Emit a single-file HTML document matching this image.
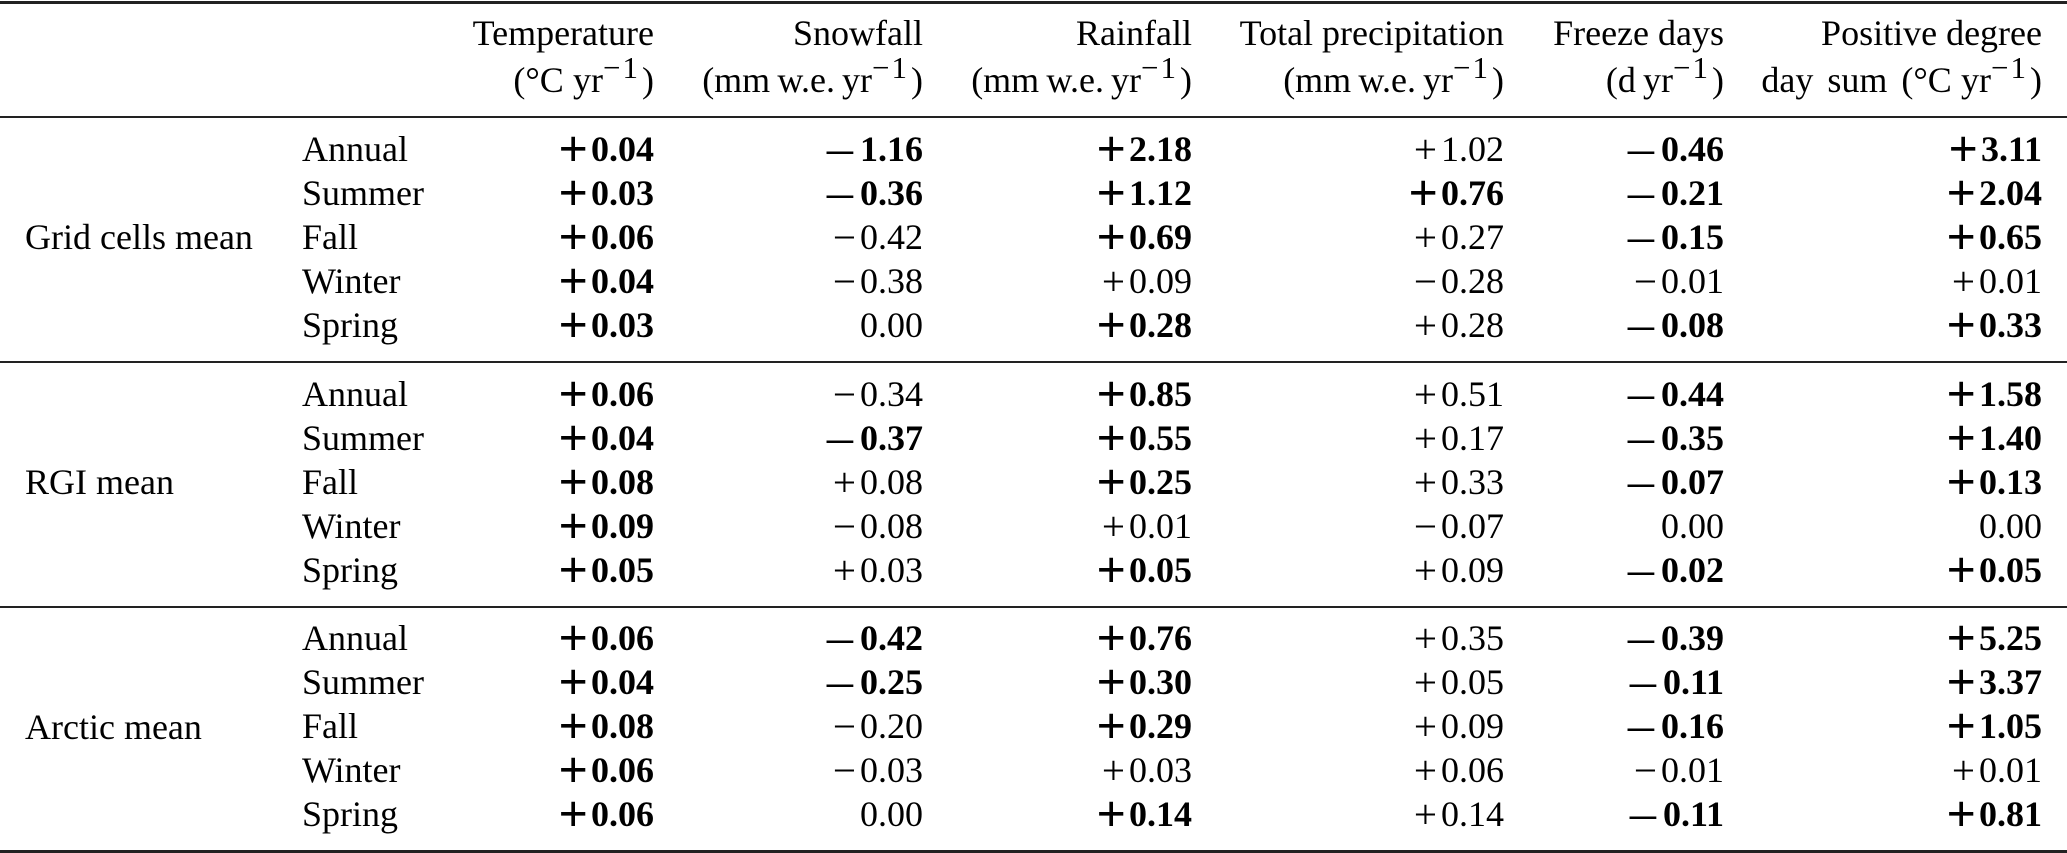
<!DOCTYPE html>
<html lang="en">
<head>
<meta charset="utf-8">
<title>Climate trends table</title>
<style>
html,body{margin:0;padding:0;background:#fff}
#t{position:relative;width:2067px;height:853px;overflow:hidden;background:#fff;color:#000;font-family:"Liberation Serif","Times New Roman",serif;font-size:36px;line-height:44px}
.rule{position:absolute;left:0;width:2067px;background:#222}
.r{position:absolute;left:0;width:2067px;height:44px;white-space:nowrap}
.g,.n,.c{position:absolute;top:0;white-space:nowrap}
.g{left:25px}
.n{left:302px}
.c{text-align:right}
.c1{right:1413px}.c2{right:1144px}.c3{right:875px}.c4{right:563px}.c5{right:343px}.c6{right:25px}
b{font-weight:700}
.p{font-weight:700;font-size:52px;line-height:0;vertical-align:-5px;margin-right:3px}
.m{font-weight:700;font-size:36px;margin-right:7px;display:inline-block;transform:scaleX(1.45);transform-origin:right center;line-height:0}
.q{font-size:41px;line-height:0;vertical-align:-2px;margin-right:4px}
.h{position:absolute;text-align:right;white-space:nowrap;height:44px}
sup{font-size:31px;line-height:0;vertical-align:14px;letter-spacing:2px;margin-right:2px}
.th{word-spacing:-2px}
.ts{margin-left:2px}
</style>
</head>
<body>
<div id="t">
<div class="rule" style="top:1px;height:3px"></div>
<div class="rule" style="top:116px;height:2px"></div>
<div class="rule" style="top:361px;height:2px"></div>
<div class="rule" style="top:606px;height:2px"></div>
<div class="rule" style="top:850px;height:3px"></div>

<div class="h c1" style="top:11px">Temperature</div>
<div class="h c1" style="top:58px"><span class="th">(°C&#8201;<span class="ts">yr</span><sup>−1</sup>)</span></div>
<div class="h c2" style="top:11px">Snowfall</div>
<div class="h c2" style="top:58px"><span class="th">(mm&#8201;w.e. yr<sup>−1</sup>)</span></div>
<div class="h c3" style="top:11px">Rainfall</div>
<div class="h c3" style="top:58px"><span class="th">(mm&#8201;w.e. yr<sup>−1</sup>)</span></div>
<div class="h c4" style="top:11px">Total precipitation</div>
<div class="h c4" style="top:58px"><span class="th">(mm&#8201;w.e. yr<sup>−1</sup>)</span></div>
<div class="h c5" style="top:11px">Freeze days</div>
<div class="h c5" style="top:58px"><span class="th">(d&#8201;yr<sup>−1</sup>)</span></div>
<div class="h c6" style="top:11px">Positive degree</div>
<div class="h c6" style="top:58px"><span class="th" style="word-spacing:5px">day sum (°C&#8201;<span class="ts">yr</span><sup>−1</sup>)</span></div>

<div class="g" style="top:215px">Grid cells mean</div>
<div class="g" style="top:460px">RGI mean</div>
<div class="g" style="top:705px">Arctic mean</div>

<div class="r" style="top:127px"><span class="n">Annual</span><span class="c c1"><b><span class="p">+</span>0.04</b></span><span class="c c2"><b><span class="m">–</span>1.16</b></span><span class="c c3"><b><span class="p">+</span>2.18</b></span><span class="c c4"><span class="q">+</span>1.02</span><span class="c c5"><b><span class="m">–</span>0.46</b></span><span class="c c6"><b><span class="p">+</span>3.11</b></span></div>
<div class="r" style="top:171px"><span class="n">Summer</span><span class="c c1"><b><span class="p">+</span>0.03</b></span><span class="c c2"><b><span class="m">–</span>0.36</b></span><span class="c c3"><b><span class="p">+</span>1.12</b></span><span class="c c4"><b><span class="p">+</span>0.76</b></span><span class="c c5"><b><span class="m">–</span>0.21</b></span><span class="c c6"><b><span class="p">+</span>2.04</b></span></div>
<div class="r" style="top:215px"><span class="n">Fall</span><span class="c c1"><b><span class="p">+</span>0.06</b></span><span class="c c2"><span class="q">−</span>0.42</span><span class="c c3"><b><span class="p">+</span>0.69</b></span><span class="c c4"><span class="q">+</span>0.27</span><span class="c c5"><b><span class="m">–</span>0.15</b></span><span class="c c6"><b><span class="p">+</span>0.65</b></span></div>
<div class="r" style="top:259px"><span class="n">Winter</span><span class="c c1"><b><span class="p">+</span>0.04</b></span><span class="c c2"><span class="q">−</span>0.38</span><span class="c c3"><span class="q">+</span>0.09</span><span class="c c4"><span class="q">−</span>0.28</span><span class="c c5"><span class="q">−</span>0.01</span><span class="c c6"><span class="q">+</span>0.01</span></div>
<div class="r" style="top:303px"><span class="n">Spring</span><span class="c c1"><b><span class="p">+</span>0.03</b></span><span class="c c2">0.00</span><span class="c c3"><b><span class="p">+</span>0.28</b></span><span class="c c4"><span class="q">+</span>0.28</span><span class="c c5"><b><span class="m">–</span>0.08</b></span><span class="c c6"><b><span class="p">+</span>0.33</b></span></div>

<div class="r" style="top:372px"><span class="n">Annual</span><span class="c c1"><b><span class="p">+</span>0.06</b></span><span class="c c2"><span class="q">−</span>0.34</span><span class="c c3"><b><span class="p">+</span>0.85</b></span><span class="c c4"><span class="q">+</span>0.51</span><span class="c c5"><b><span class="m">–</span>0.44</b></span><span class="c c6"><b><span class="p">+</span>1.58</b></span></div>
<div class="r" style="top:416px"><span class="n">Summer</span><span class="c c1"><b><span class="p">+</span>0.04</b></span><span class="c c2"><b><span class="m">–</span>0.37</b></span><span class="c c3"><b><span class="p">+</span>0.55</b></span><span class="c c4"><span class="q">+</span>0.17</span><span class="c c5"><b><span class="m">–</span>0.35</b></span><span class="c c6"><b><span class="p">+</span>1.40</b></span></div>
<div class="r" style="top:460px"><span class="n">Fall</span><span class="c c1"><b><span class="p">+</span>0.08</b></span><span class="c c2"><span class="q">+</span>0.08</span><span class="c c3"><b><span class="p">+</span>0.25</b></span><span class="c c4"><span class="q">+</span>0.33</span><span class="c c5"><b><span class="m">–</span>0.07</b></span><span class="c c6"><b><span class="p">+</span>0.13</b></span></div>
<div class="r" style="top:504px"><span class="n">Winter</span><span class="c c1"><b><span class="p">+</span>0.09</b></span><span class="c c2"><span class="q">−</span>0.08</span><span class="c c3"><span class="q">+</span>0.01</span><span class="c c4"><span class="q">−</span>0.07</span><span class="c c5">0.00</span><span class="c c6">0.00</span></div>
<div class="r" style="top:548px"><span class="n">Spring</span><span class="c c1"><b><span class="p">+</span>0.05</b></span><span class="c c2"><span class="q">+</span>0.03</span><span class="c c3"><b><span class="p">+</span>0.05</b></span><span class="c c4"><span class="q">+</span>0.09</span><span class="c c5"><b><span class="m">–</span>0.02</b></span><span class="c c6"><b><span class="p">+</span>0.05</b></span></div>

<div class="r" style="top:616px"><span class="n">Annual</span><span class="c c1"><b><span class="p">+</span>0.06</b></span><span class="c c2"><b><span class="m">–</span>0.42</b></span><span class="c c3"><b><span class="p">+</span>0.76</b></span><span class="c c4"><span class="q">+</span>0.35</span><span class="c c5"><b><span class="m">–</span>0.39</b></span><span class="c c6"><b><span class="p">+</span>5.25</b></span></div>
<div class="r" style="top:660px"><span class="n">Summer</span><span class="c c1"><b><span class="p">+</span>0.04</b></span><span class="c c2"><b><span class="m">–</span>0.25</b></span><span class="c c3"><b><span class="p">+</span>0.30</b></span><span class="c c4"><span class="q">+</span>0.05</span><span class="c c5"><b><span class="m">–</span>0.11</b></span><span class="c c6"><b><span class="p">+</span>3.37</b></span></div>
<div class="r" style="top:704px"><span class="n">Fall</span><span class="c c1"><b><span class="p">+</span>0.08</b></span><span class="c c2"><span class="q">−</span>0.20</span><span class="c c3"><b><span class="p">+</span>0.29</b></span><span class="c c4"><span class="q">+</span>0.09</span><span class="c c5"><b><span class="m">–</span>0.16</b></span><span class="c c6"><b><span class="p">+</span>1.05</b></span></div>
<div class="r" style="top:748px"><span class="n">Winter</span><span class="c c1"><b><span class="p">+</span>0.06</b></span><span class="c c2"><span class="q">−</span>0.03</span><span class="c c3"><span class="q">+</span>0.03</span><span class="c c4"><span class="q">+</span>0.06</span><span class="c c5"><span class="q">−</span>0.01</span><span class="c c6"><span class="q">+</span>0.01</span></div>
<div class="r" style="top:792px"><span class="n">Spring</span><span class="c c1"><b><span class="p">+</span>0.06</b></span><span class="c c2">0.00</span><span class="c c3"><b><span class="p">+</span>0.14</b></span><span class="c c4"><span class="q">+</span>0.14</span><span class="c c5"><b><span class="m">–</span>0.11</b></span><span class="c c6"><b><span class="p">+</span>0.81</b></span></div>
</div>
</body>
</html>
